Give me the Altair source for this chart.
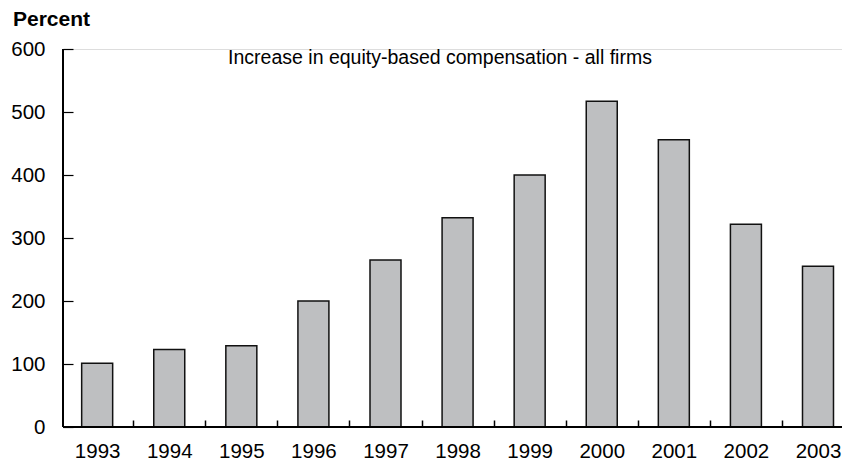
import altair as alt
import pandas as pd

years = ["1993", "1994", "1995", "1996", "1997", "1998", "1999", "2000", "2001", "2002", "2003"]
values = [101, 123, 129, 200, 265, 332, 400, 517, 456, 322, 255]
y_ticks = [0, 100, 200, 300, 400, 500, 600]
y_title = "Percent"
subtitle = "Increase in equity-based compensation - all firms"

df = pd.DataFrame({"year": years, "value": values})

W, H = 779, 378
FONT = "Liberation Sans"
P_IN, P_OUT = 0.57, 0.1885
STEP = W / (len(years) - P_IN + 2 * P_OUT)

x_scale = alt.Scale(domain=years, paddingInner=P_IN, paddingOuter=P_OUT, align=0.687)
y_scale = alt.Scale(domain=[0, 600], nice=False)

bars = alt.Chart(df).mark_bar(
    fill="#bebfc1", stroke="#111111", strokeWidth=1.5
).encode(
    x=alt.X("year:N", scale=x_scale, sort=years,
            axis=alt.Axis(title=None, domain=False,
                          tickOffset=STEP / 2, labelOffset=-STEP / 2,
                          offset=-7, tickSize=7, tickColor="#000", tickWidth=1.5,
                          labelAngle=0, labelFont=FONT, labelFontSize=20.5,
                          labelColor="#000", labelBaseline="alphabetic",
                          labelPadding=30, grid=False, zindex=5)),
    y=alt.Y("value:Q", scale=y_scale,
            axis=alt.Axis(title=None, domain=False, values=y_ticks,
                          offset=-10, tickSize=10, tickColor="#000", tickWidth=1.2,
                          labelFont=FONT, labelFontSize=20.5, labelColor="#000",
                          labelPadding=18, grid=False)),
)

yline = alt.Chart(df).mark_rule(color="#000", strokeWidth=1.2).encode(
    x=alt.value(0), y=alt.value(0), y2=alt.value(H)
)
xline = alt.Chart(df).mark_rule(color="#000", strokeWidth=1.2).encode(
    x=alt.value(0), x2=alt.value(W), y=alt.value(H)
)

title_txt = alt.Chart(pd.DataFrame({"t": [y_title]})).mark_text(
    font=FONT, fontSize=21, fontWeight="bold", align="left", baseline="alphabetic", color="#000"
).encode(x=alt.value(-50), y=alt.value(-23), text="t:N")

sub_txt = alt.Chart(pd.DataFrame({"t": [subtitle]})).mark_text(
    font=FONT, fontSize=19.5, align="center", baseline="alphabetic", color="#000"
).encode(x=alt.value(377), y=alt.value(15), text="t:N")

chart = alt.layer(bars, yline, xline, title_txt, sub_txt).properties(
    width=W, height=H,
    autosize=alt.AutoSizeParams(type="none"),
    padding={"left": 55, "top": 41, "right": 0, "bottom": 34},
).configure_view(strokeWidth=0, stroke="transparent").configure_axis(grid=False).configure(background="white")

chart.save("out.html", embed_options={"renderer": "svg", "actions": False})
